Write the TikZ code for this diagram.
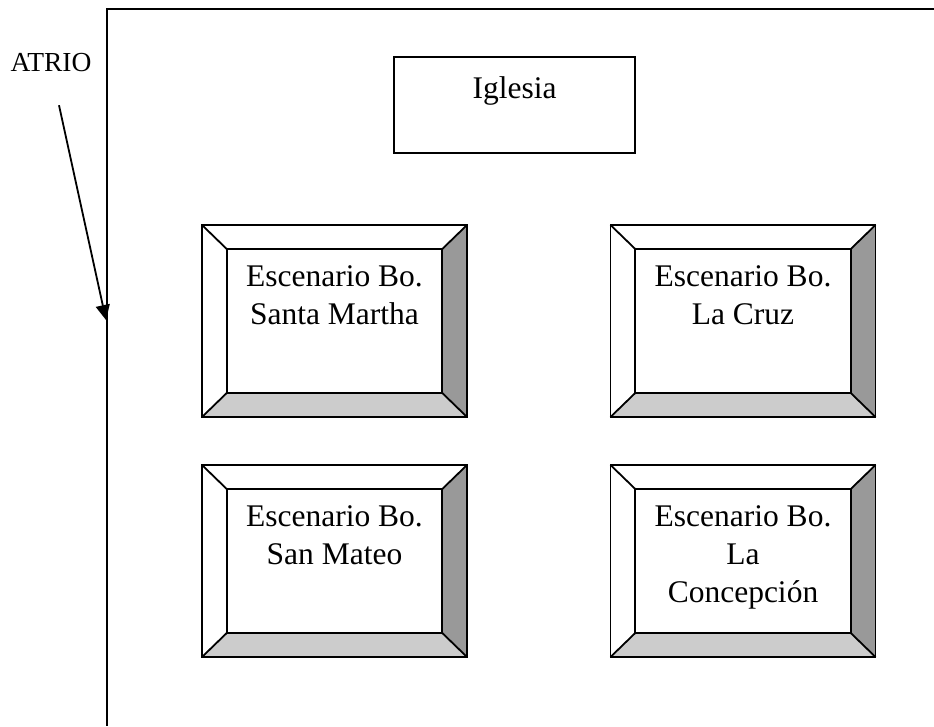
\documentclass[tikz,border=0pt]{standalone}
\usepackage{fontspec}
\setmainfont{Liberation Serif}
\usetikzlibrary{arrows.meta,calc}
\tikzset{
  ln/.style={draw=black,line width=1.8pt,line cap=butt,line join=miter},
  plainbox/.style={ln,rectangle,fill=white,minimum width=241pt,minimum height=96pt,inner sep=0pt,outer sep=0pt},
  bevelouter/.style={ln,rectangle,fill=white,minimum width=265pt,minimum height=192pt,inner sep=0pt,outer sep=0pt},
  bevelinner/.style={ln,rectangle,fill=white,minimum width=215.5pt,minimum height=144pt,inner sep=0pt,outer sep=0pt},
  lbl/.style={font=\fontsize{31.5}{38}\selectfont,align=center,inner sep=0pt,outer sep=0pt,text=black},
  shadedark/.style={fill=black!40},
  shadelight/.style={fill=black!20},
  pointer/.style={draw=black,line width=1.8pt,-{Triangle[length=15pt,width=14pt]}}
}
\newcommand{\bevelbox}[3]{%
  \node[bevelouter] (#1) at (#2) {};
  \node[bevelinner] (#1in) at (#2) {};
  \fill[shadedark] (#1.north east) -- (#1in.north east) -- (#1in.south east) -- (#1.south east) -- cycle;
  \fill[shadelight] (#1.south west) -- (#1in.south west) -- (#1in.south east) -- (#1.south east) -- cycle;
  \draw[ln] (#1.north west) -- (#1in.north west) (#1.north east) -- (#1in.north east)
            (#1.south west) -- (#1in.south west) (#1.south east) -- (#1in.south east);
  \draw[ln] (#1.north west) rectangle (#1.south east);
  \draw[ln] (#1in.north west) rectangle (#1in.south east);
  \node[lbl,anchor=north] (#1txt) at ([yshift=-17pt]#1in.north) {#3};
}
\begin{document}
\begin{tikzpicture}[x=1pt,y=-1pt]
\useasboundingbox[fill=white] (0,0) rectangle (934,726);
\coordinate (fa) at (934,9);
\coordinate (fb) at (107,9);
\coordinate (fc) at (107,726);
\draw[ln] (fa) -- (fb) -- (fc);
\node[plainbox] (iglesia) at (514.5,105) {};
\node[lbl,anchor=north] (iglesiatxt) at (514.5,77) {Iglesia};
\bevelbox{sm}{334.5,321}{Escenario Bo.\\Santa Martha}
\bevelbox{lc}{743,321}{Escenario Bo.\\La Cruz}
\bevelbox{sa}{334.5,561}{Escenario Bo.\\San Mateo}
\bevelbox{co}{743,561}{Escenario Bo.\\La\\Concepción}
\node[font=\fontsize{27.5}{30}\selectfont,inner sep=0pt,outer sep=0pt] (atrio) at (51,63) {ATRIO};
\coordinate (atriotip) at (106,320);
\draw[pointer] ([shift={(8pt,-33pt)}]atrio.south) -- (atriotip);
\end{tikzpicture}
\end{document}
